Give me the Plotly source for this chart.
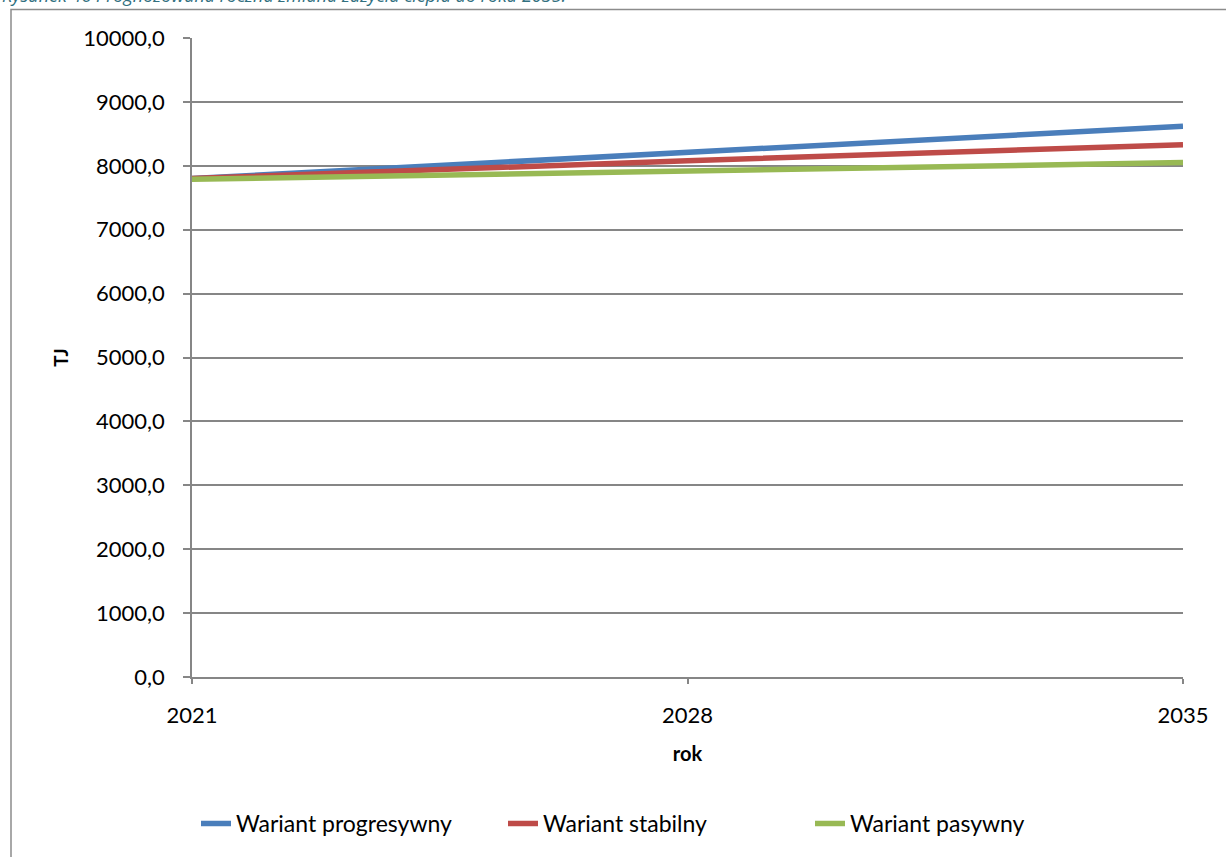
import plotly.graph_objects as go

years = [2021, 2028, 2035]
progresywny = [7800.0, 8215.0, 8620.0]
stabilny = [7800.0, 8080.0, 8330.0]
pasywny = [7790.0, 7925.0, 8050.0]

series_names = ["Wariant progresywny", "Wariant stabilny", "Wariant pasywny"]
colors = ["#4A7EBB", "#BE4B48", "#98B954"]
y_ticks = [0, 1000, 2000, 3000, 4000, 5000, 6000, 7000, 8000, 9000, 10000]

W, H = 1226, 857
L, R, T, B = 192, 1183, 38, 679

fig = go.Figure()
for name, vals, col in zip(series_names, [progresywny, stabilny, pasywny], colors):
    fig.add_trace(go.Scatter(x=years, y=vals, mode="lines", name=name,
                             line=dict(color=col, width=5.5)))

def px(x):
    return (x - L) / (R - L)

def py(y):
    return (B - y) / (B - T)

fig.update_layout(
    width=W, height=H,
    margin=dict(l=L, r=W - R, t=T, b=H - B, pad=0),
    paper_bgcolor="white", plot_bgcolor="white",
    separators=", ",
    font=dict(family="Lato", size=22, color="black"),
    showlegend=True,
    legend=dict(orientation="h", x=px(196), xanchor="left", y=py(826), yanchor="middle",
                font=dict(family="Lato", size=23, color="black"),
                entrywidth=262, entrywidthmode="pixels",
                itemwidth=30, tracegroupgap=0, bgcolor="rgba(0,0,0,0)"),
    xaxis=dict(range=[2021, 2035], tickvals=years, ticktext=[str(y) for y in years],
               showgrid=False, zeroline=False, showline=True, linecolor="#868686", linewidth=1.5,
               ticks="outside", ticklen=5, tickwidth=1.5, tickcolor="#868686",
               ticklabelstandoff=13,
               title=dict(text="<b>rok</b>", font=dict(family="Lato", size=20), standoff=20)),
    yaxis=dict(range=[0, 10000], tickvals=y_ticks, tickformat=".1f",
               showgrid=True, gridcolor="#868686", gridwidth=1.5,
               zeroline=False, showline=True, linecolor="#868686", linewidth=1.5,
               ticks="outside", ticklen=7, tickwidth=1.5, tickcolor="#868686",
               ticklabelstandoff=14,
               title=dict(text="<b>TJ</b>", font=dict(family="Lato", size=19), standoff=10)),
    shapes=[dict(type="rect", xref="paper", yref="paper",
                 x0=px(11), x1=px(1300), y0=py(900), y1=py(9.5),
                 line=dict(color="#8C8C8C", width=1.5), fillcolor="rgba(0,0,0,0)", layer="below")],
    annotations=[dict(text="<i>Rysunek 46 Prognozowana roczna zmiana zużycia ciepła do roku 2035.</i>",
                      xref="paper", yref="paper", x=px(0), y=py(9), xanchor="left", yanchor="bottom",
                      showarrow=False, font=dict(family="Open Sans", size=18, color="#31707F"))],
)

fig.write_html("out.html", config={"displayModeBar": False},
               post_script="document.body.style.margin='0';")
